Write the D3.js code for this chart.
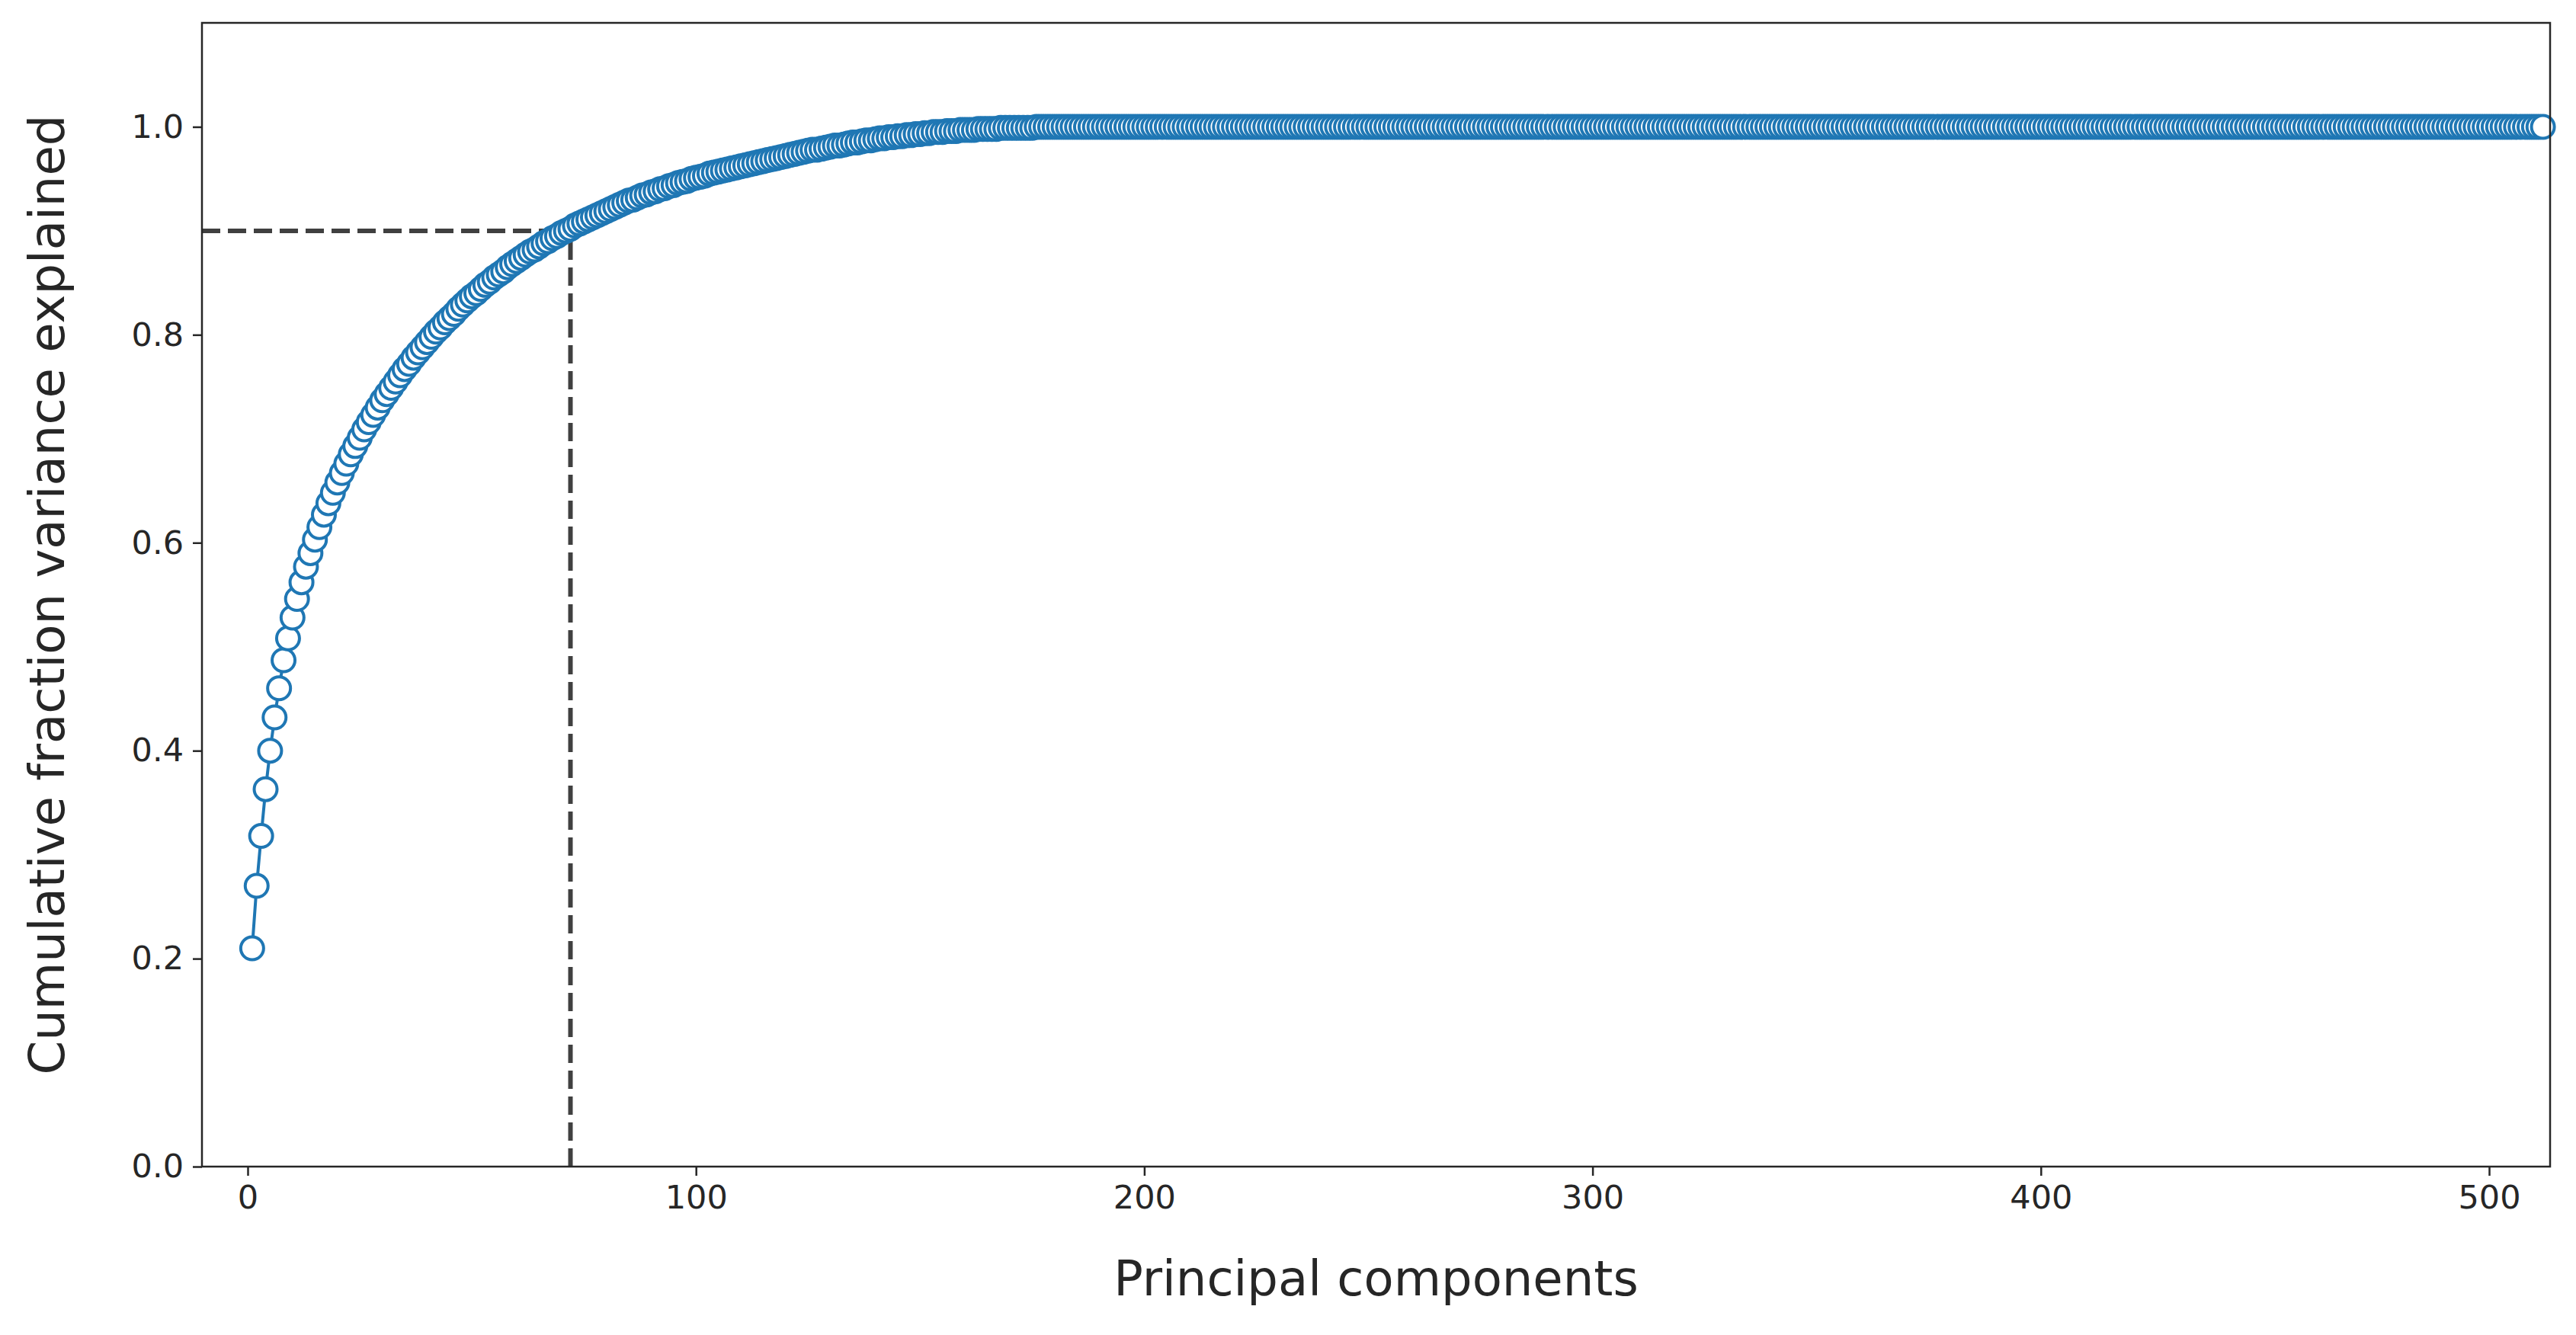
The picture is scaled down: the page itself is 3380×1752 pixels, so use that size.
<!DOCTYPE html>
<html><head><meta charset="utf-8">
<script src="https://cdn.jsdelivr.net/npm/d3@7"></script>
<style>body{margin:0;background:#fff}svg{display:block}text{font-family:"DejaVu Sans",sans-serif;fill:#262626}</style>
</head><body>
<script>
const headValues = [
0.210,0.270,0.318,0.363,0.400,0.432,0.460,0.487,0.508,0.528,0.546,0.562,
0.577,0.590,0.603,0.615,0.627,0.638,0.648,0.658,
0.667,0.676,0.685,0.693,0.701,0.709,0.716,0.723,0.730,0.737,
0.743,0.749,0.755,0.761,0.767,0.772,0.778,0.783,0.788,0.793,
0.798,0.803,0.807,0.812,0.816,0.820,0.825,0.829,0.833,0.837,
0.840,0.844,0.848,0.851,0.855,0.858,0.861,0.865,0.868,0.871,
0.874,0.877,0.880,0.882,0.885,0.888,0.890,0.893,0.895,0.898,0.900,0.902,
0.905,0.907,0.909,0.911,0.913,0.915,0.917,0.919,
0.921,0.923,0.925,0.927,0.929,0.930,0.932,0.934,0.935,0.937,
0.938,0.940,0.941,0.943,0.944,0.946,0.947,0.948,0.950,0.951,
0.952,0.953,0.955,0.956,0.957,0.958,0.959,0.960,0.961,0.962,
0.963,0.964,0.965,0.966,0.967,0.968,0.969,0.970,0.971,0.972,
0.973,0.974,0.975,0.976,0.977,0.978,0.978,0.979,0.980,0.981,
0.982,0.982,0.983,0.984,0.985,0.985,0.986,0.987,0.987,0.988,
0.989,0.989,0.990,0.990,0.991,0.991,0.992,0.992,0.993,0.993,
0.994,0.994,0.995,0.995,0.995,0.996,0.996,0.996,0.997,0.997,
0.997,0.997,0.998,0.998,0.998,0.998,0.998,0.999,0.999,0.999,
0.999,0.999,0.999,0.999,0.999,1.0,1.0,1.0,1.0,1.0];
const nComponents = 512;
const tailValue = 1.0; // all components after 180 read as 1.0
const cumValues = headValues.concat(new Array(nComponents - headValues.length).fill(tailValue));
const threshold = 0.9;
const thresholdComponent = 72;
const xTicks = [0,100,200,300,400,500];
const yTicks = [0,0.2,0.4,0.6,0.8,1.0];

const W=3380,H=1752, L=265,R=3346,T=30,B=1531;
const svg=d3.select("body").append("svg").attr("width",W).attr("height",H);
const x=d3.scaleLinear().domain([-10.2,513.6]).range([L,R]);
const y=d3.scaleLinear().domain([0,1.1]).range([B,T]);
const data=cumValues.map((v,i)=>({c:i+1,v}));

const dash="24,10";
svg.append("line").attr("x1",x(-10.2)).attr("x2",x(thresholdComponent)).attr("y1",y(threshold)).attr("y2",y(threshold))
 .attr("stroke","#000").attr("stroke-opacity",0.75).attr("stroke-width",6).attr("stroke-dasharray",dash);
svg.append("line").attr("x1",x(thresholdComponent)).attr("x2",x(thresholdComponent)).attr("y1",y(0)).attr("y2",y(threshold))
 .attr("stroke","#000").attr("stroke-opacity",0.75).attr("stroke-width",6).attr("stroke-dasharray",dash);

const g=svg.append("g");
g.append("path").datum(data).attr("fill","none").attr("stroke","#1f77b4").attr("stroke-width",4)
 .attr("d",d3.line().x(d=>x(d.c)).y(d=>y(d.v)));
g.selectAll("circle").data(data).join("circle").attr("cx",d=>x(d.c)).attr("cy",d=>y(d.v)).attr("r",15)
 .attr("fill","#fff").attr("stroke","#1f77b4").attr("stroke-width",4);

const xa=svg.append("g").attr("transform",`translate(0,${B})`).call(d3.axisBottom(x).tickValues(xTicks).tickFormat(d3.format("d")).tickSize(12).tickPadding(12));
const ya=svg.append("g").attr("transform",`translate(${L},0)`).call(d3.axisLeft(y).tickValues(yTicks).tickFormat(d3.format(".1f")).tickSize(12).tickPadding(12));
[xa,ya].forEach(a=>{a.select(".domain").remove();a.selectAll("line").attr("stroke","#262626").attr("stroke-width",2.5);a.selectAll("text").attr("font-size",43).attr("font-family","DejaVu Sans").attr("fill","#262626");});
svg.append("rect").attr("x",L).attr("y",T).attr("width",R-L).attr("height",B-T).attr("fill","none").attr("stroke","#262626").attr("stroke-width",2.5);

svg.append("text").attr("x",(L+R)/2).attr("y",1682).attr("text-anchor","middle").attr("dominant-baseline","middle").attr("font-size",64).text("Principal components");
svg.append("text").attr("transform",`translate(66,${(T+B)/2}) rotate(-90)`).attr("text-anchor","middle").attr("dominant-baseline","middle").attr("font-size",64).text("Cumulative fraction variance explained");
</script>
</body></html>
